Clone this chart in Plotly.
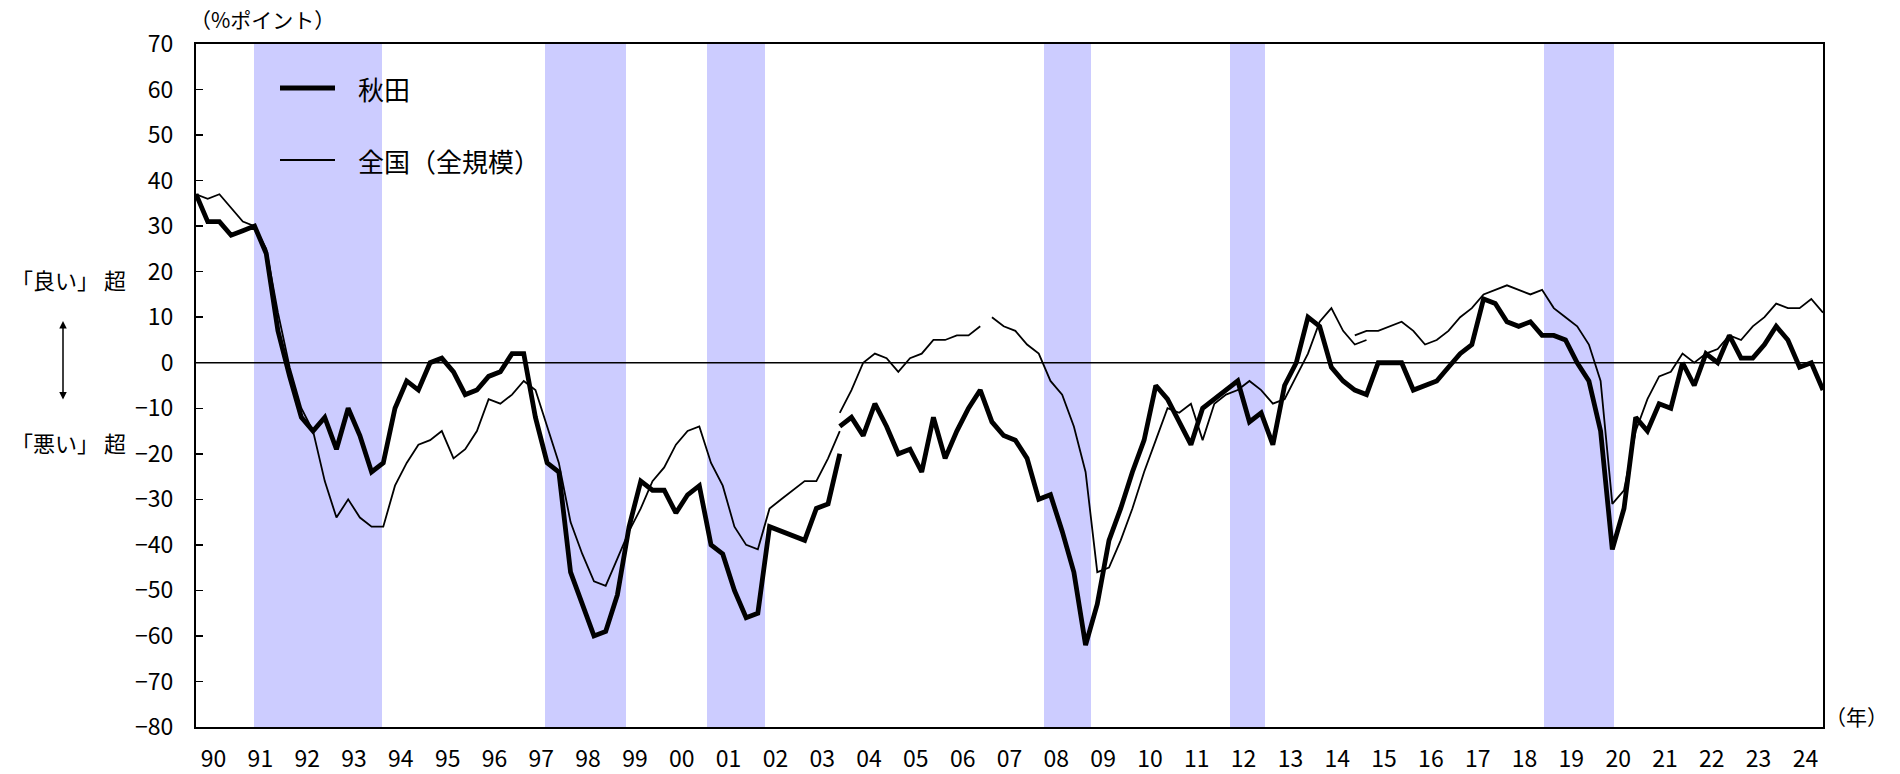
import plotly.graph_objects as go

# ---------------- data ----------------
years = list(range(1990, 2025))
year_labels = [f"{y % 100:02d}" for y in years]

# 秋田 (業況判断DI), quarterly from 1990Q1; old basis up to 2003Q4, new basis from 2003Q4
akita_old = [37, 31, 31, 28, 29, 30, 24, 7, -3, -12,
             -15, -12, -19, -10, -16, -24, -22, -10, -4, -6,
             0, 1, -2, -7, -6, -3, -2, 2, 2, -12,
             -22, -24, -46, -53, -60, -59, -51, -36, -26, -28,
             -28, -33, -29, -27, -40, -42, -50, -56, -55, -36,
             -37, -38, -39, -32, -31, -20]
akita_new = [-14, -12, -16, -9, -14, -20, -19, -24, -12, -21,
             -15, -10, -6, -13, -16, -17, -21, -30, -29, -37,
             -46, -62, -53, -39, -32, -24, -17, -5, -8, -13,
             -18, -10, -8, -6, -4, -13, -11, -18, -5, 0,
             10, 8, -1, -4, -6, -7, 0, 0, 0, -6,
             -5, -4, -1, 2, 4, 14, 13, 9, 8, 9,
             6, 6, 5, 0, -4, -15, -41, -32, -12, -15,
             -9, -10, 0, -5, 2, 0, 6, 1, 1, 4,
             8, 5, -1, 0, -6]

# 全国（全規模）: four survey bases
nat_a = [37, 36, 37, 34, 31, 30, 25, 11, -1, -10,
         -15, -26, -34, -30, -34, -36, -36, -27, -22, -18,
         -17, -15, -21, -19, -15, -8, -9, -7, -4, -6,
         -14, -22, -35, -42, -48, -49, -43, -37, -32, -26,
         -23, -18, -15, -14, -22, -27, -36, -40, -41, -32,
         -30, -28, -26, -26, -21, -15]
nat_b = [-11, -6, 0, 2, 1, -2, 1, 2, 5, 5, 6, 6, 8]
nat_c = [10, 8, 7, 4, 2, -4, -7, -14, -24, -46,
         -45, -39, -32, -24, -17, -10, -11, -9, -17, -9,
         -7, -6, -4, -6, -9, -8, -3, 2, 9, 12,
         7, 4, 5]
nat_d = [6, 7, 7, 8, 9, 7, 4, 5, 7, 10,
         12, 15, 16, 17, 16, 15, 16, 12, 10, 8,
         4, -4, -31, -28, -15, -8, -3, -2, 2, 0,
         2, 3, 6, 5, 8, 10, 13, 12, 12, 14,
         11]

# 景気後退期 (shaded quarters)
recessions = [("1991Q2", "1993Q4"), ("1997Q3", "1999Q1"), ("2001Q1", "2002Q1"),
              ("2008Q2", "2009Q1"), ("2012Q2", "2012Q4"), ("2019Q1", "2020Q2")]

# ---------------- helpers ----------------
def qidx(s):
    y, q = s.split("Q")
    return (int(y) - 1990) * 4 + int(q) - 1

n_q = len(years) * 4

def seg(values, start):
    return list(range(start, start + len(values))), values

akita_segments = [seg(akita_old, 0), seg(akita_new, qidx("2003Q4"))]
nat_segments = [seg(nat_a, 0), seg(nat_b, qidx("2003Q4")),
                seg(nat_c, qidx("2007Q1")), seg(nat_d, qidx("2014Q4"))]

def join(segments):
    xs, ys = [], []
    for x, y in segments:
        if xs:
            xs.append(None)
            ys.append(None)
        xs += x
        ys += y
    return xs, ys

shade_q = []
for a, b in recessions:
    shade_q += list(range(qidx(a), qidx(b) + 1))

Y_MIN, Y_MAX = -80, 70

# ---------------- figure ----------------
W, H = 1900, 774
L, R, T, B = 196, 77, 44, 47
PW, PH = W - L - R, H - T - B

def px(xp):
    return (xp - L) / PW

def py(yp):
    return (H - B - yp) / PH

FONT = "Noto Sans CJK JP"

fig = go.Figure()

# shaded recession bands (category axis)
fig.add_trace(go.Bar(
    x=shade_q, y=[Y_MAX - Y_MIN] * len(shade_q), base=[Y_MIN] * len(shade_q),
    width=1, marker=dict(color="#CCCCFF", line=dict(width=0)),
    xaxis="x", yaxis="y", showlegend=False, hoverinfo="skip"))

# zero reference line
fig.add_trace(go.Scatter(
    x=[0, n_q - 1], y=[0, 0], mode="lines",
    line=dict(color="black", width=1.6),
    xaxis="x2", yaxis="y", showlegend=False, hoverinfo="skip"))

nx, ny = join(nat_segments)
fig.add_trace(go.Scatter(
    x=nx, y=ny, mode="lines", name="全国（全規模）",
    line=dict(color="black", width=1.8),
    xaxis="x2", yaxis="y", showlegend=False, connectgaps=False))

ax_, ay_ = join(akita_segments)
fig.add_trace(go.Scatter(
    x=ax_, y=ay_, mode="lines", name="秋田",
    line=dict(color="black", width=4.8),
    xaxis="x2", yaxis="y", showlegend=False, connectgaps=False))

tick_pos = [4 * k + 1.5 for k in range(len(years))]

fig.update_layout(
    width=W, height=H,
    margin=dict(l=L, r=R, t=T, b=B, pad=0, autoexpand=False),
    paper_bgcolor="white", plot_bgcolor="white",
    font=dict(family=FONT, color="black", size=23),
    barmode="overlay", bargap=0,
    xaxis=dict(range=[-0.5, n_q - 0.5], showticklabels=False, ticks="",
               showgrid=False, zeroline=False, showline=True, mirror=True,
               linecolor="black", linewidth=2, automargin=False),
    xaxis2=dict(range=[0, n_q - 1], overlaying="x", anchor="y", side="bottom",
                tickmode="array", tickvals=tick_pos, ticktext=year_labels,
                ticks="", showgrid=False, zeroline=False, showline=False,
                tickfont=dict(family=FONT, size=23), ticklabelstandoff=16,
                automargin=False),
    yaxis=dict(range=[Y_MIN, Y_MAX], dtick=10, tick0=0, ticks="inside",
               ticklen=7, tickwidth=1.5, tickcolor="black",
               showgrid=False, zeroline=False, showline=True, mirror=True,
               linecolor="black", linewidth=2, automargin=False,
               tickfont=dict(family=FONT, size=23), ticklabelstandoff=16),
    hovermode=False,
)

ann = []
ann.append(dict(text="（%ポイント）", x=px(188), y=py(19), xref="paper", yref="paper",
                xanchor="left", yanchor="middle", showarrow=False,
                font=dict(family=FONT, size=21)))
ann.append(dict(text="（年）", x=px(1856), y=py(716), xref="paper", yref="paper",
                xanchor="center", yanchor="middle", showarrow=False,
                font=dict(family=FONT, size=21)))
ann.append(dict(text="「良い」 超", x=px(68), y=py(279), xref="paper", yref="paper",
                xanchor="center", yanchor="middle", showarrow=False,
                font=dict(family=FONT, size=22)))
ann.append(dict(text="「悪い」 超", x=px(68), y=py(442), xref="paper", yref="paper",
                xanchor="center", yanchor="middle", showarrow=False,
                font=dict(family=FONT, size=22)))
# double-headed arrow
ann.append(dict(text="", x=px(63), y=py(321), xref="paper", yref="paper",
                ax=0, ay=80, axref="pixel", ayref="pixel", showarrow=True,
                arrowhead=2, startarrowhead=2, arrowside="end+start",
                arrowsize=1, arrowwidth=1.5, arrowcolor="black"))
# legend
ann.append(dict(text="秋田", x=px(356), y=py(88), xref="paper", yref="paper",
                xanchor="left", yanchor="middle", showarrow=False,
                font=dict(family=FONT, size=26)))
ann.append(dict(text="全国（全規模）", x=px(356), y=py(160), xref="paper", yref="paper",
                xanchor="left", yanchor="middle", showarrow=False,
                font=dict(family=FONT, size=26)))
fig.update_layout(annotations=ann)

fig.add_shape(type="line", xref="paper", yref="paper", x0=px(280), x1=px(335),
              y0=py(88), y1=py(88), line=dict(color="black", width=5))
fig.add_shape(type="line", xref="paper", yref="paper", x0=px(280), x1=px(335),
              y0=py(160), y1=py(160), line=dict(color="black", width=1.8))

fig.write_html("out.html", config={"displayModeBar": False, "staticPlot": True},
               post_script="document.body.style.margin='0';document.body.style.overflow='hidden';")
